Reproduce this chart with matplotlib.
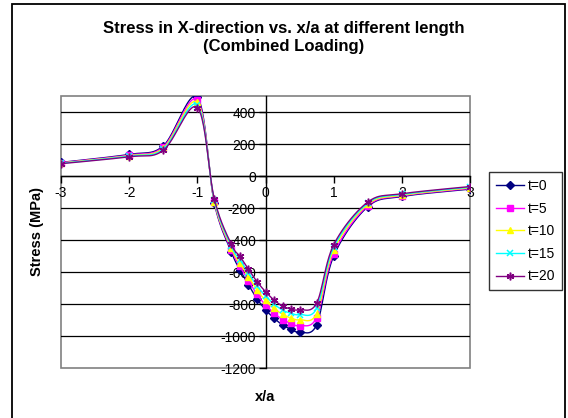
import numpy as np
import matplotlib
matplotlib.use('Agg')
import matplotlib.pyplot as plt
from matplotlib.patches import Rectangle

plt.rcParams['font.family'] = ['Liberation Sans', 'DejaVu Sans']
plt.rcParams['axes.unicode_minus'] = False

# x/a positions along the plate
x_a = [-3, -2, -1.5, -1, -0.75, -0.5, -0.375, -0.25, -0.125, 0,
       0.125, 0.25, 0.375, 0.5, 0.75, 1, 1.5, 2, 3]

# stress in X direction (MPa) for each length step
stress_t0 = [85, 135, 188, 492, -170, -475, -586, -679, -767, -836,
             -888, -931, -958, -975, -930, -500, -192, -128, -82]
stress_t5 = [83, 131, 181, 476, -165, -463, -565, -654, -740, -806,
             -857, -897, -921, -935, -885, -485, -186, -124, -78]
stress_t10 = [81, 127, 174, 460, -160, -452, -545, -630, -713, -778,
              -828, -864, -888, -898, -860, -462, -178, -120, -74]
stress_t15 = [79, 124, 167, 444, -153, -440, -523, -606, -686, -750,
              -800, -838, -858, -866, -828, -446, -170, -115, -70]
stress_t20 = [77, 120, 160, 428, -145, -428, -502, -583, -660, -723,
              -775, -813, -831, -836, -795, -430, -163, -111, -66]

series_labels = ['t=0', 't=5', 't=10', 't=15', 't=20']
y_ticks = [-1200, -1000, -800, -600, -400, -200, 0, 200, 400]
x_ticks = [-3, -2, -1, 0, 1, 2, 3]


def smooth_curve(xs, ys, steps=24):
    # smoothed line like the spreadsheet: cubic bezier pieces through every point
    p = np.column_stack([xs, ys]).astype(float)
    n = len(p)
    out = [p[0]]
    t = np.linspace(0, 1, steps + 1)[1:, None]
    for i in range(n - 1):
        prev_pt = p[i - 1] if i > 0 else p[i]
        next_pt = p[i + 2] if i + 2 < n else p[i + 1]
        c1 = p[i] + (p[i + 1] - prev_pt) / 6
        c2 = p[i + 1] - (next_pt - p[i]) / 6
        seg = ((1 - t) ** 3 * p[i] + 3 * (1 - t) ** 2 * t * c1
               + 3 * (1 - t) * t ** 2 * c2 + t ** 3 * p[i + 1])
        out.extend(seg)
    out = np.array(out)
    return out[:, 0], out[:, 1], list(range(0, len(out), steps))


fig = plt.figure(figsize=(5.68, 4.18), dpi=100)
ax = fig.add_axes([61 / 568, 50 / 418, 409 / 568, 272 / 418])

styles = [
    dict(color='#000080', marker='D', markersize=4),
    dict(color='#FF00FF', marker='s', markersize=4.5),
    dict(color='#FFFF00', marker='^', markersize=5),
    dict(color='#00FFFF', marker='x', markersize=4.5, markeredgewidth=1.1),
    dict(color='#800080', marker=(6, 2, 0), markersize=5.5, markeredgewidth=1.1),
]
all_series = [stress_t0, stress_t5, stress_t10, stress_t15, stress_t20]

for ys, lab, st in zip(all_series, series_labels, styles):
    sx, sy, marks = smooth_curve(x_a, ys)
    ax.plot(sx, sy, lw=1, markevery=marks, label=lab, zorder=3, **st)

ax.set_xlim(-3, 3)
ax.set_ylim(-1200, 500)

# horizontal gridlines
for lvl in y_ticks[1:]:
    ax.axhline(lvl, color='black', lw=0.9, zorder=1)

# axes cross at the origin
for side in ['top', 'right']:
    ax.spines[side].set_visible(False)
ax.spines['left'].set_position(('data', 0))
ax.spines['bottom'].set_position(('data', 0))
ax.spines['left'].set_linewidth(1)
ax.spines['bottom'].set_linewidth(1)
ax.add_patch(Rectangle((0, 0), 1, 1, transform=ax.transAxes, fill=False,
                       ec='#808080', lw=1.2, clip_on=False, zorder=0))

ax.set_yticks(y_ticks)
ax.set_xticks(x_ticks)
ax.tick_params(axis='both', direction='out', length=5, width=1, labelsize=10,
               pad=2)

fig.text(284 / 568, 1 - 28 / 418, 'Stress in X-direction vs. x/a at different length',
         ha='center', va='center', fontsize=12, weight='bold')
fig.text(284 / 568, 1 - 46 / 418, '(Combined Loading)',
         ha='center', va='center', fontsize=12, weight='bold')
fig.text(37 / 568, 1 - 232 / 418, 'Stress (MPa)', rotation=90,
         ha='center', va='center', fontsize=10.5, weight='bold')
fig.text(265 / 568, 1 - 397 / 418, 'x/a', ha='center', va='center',
         fontsize=10.5, weight='bold')

leg = fig.legend(loc='upper left', bbox_to_anchor=(489 / 568, 1 - 172 / 418),
                 fontsize=10, frameon=True, fancybox=False, edgecolor='black',
                 handlelength=2.0, handletextpad=0.3, labelspacing=0.62,
                 borderpad=0.5, borderaxespad=0)
leg.get_frame().set_linewidth(1)

# chart area frame
fig.add_artist(Rectangle((12 / 568, -0.05), 553 / 568, 1 - 4 / 418 + 0.05,
                         transform=fig.transFigure, fill=False, ec='black', lw=1.3))

fig.savefig('out.png', dpi=100)
